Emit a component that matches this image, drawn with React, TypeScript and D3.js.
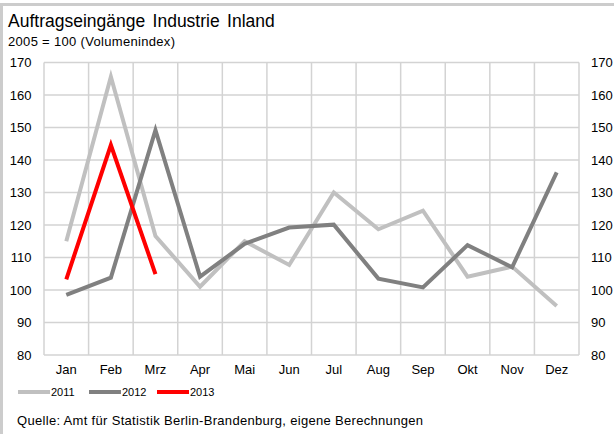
import React from "react";
import * as d3 from "d3";

const months = ["Jan", "Feb", "Mrz", "Apr", "Mai", "Jun", "Jul", "Aug", "Sep", "Okt", "Nov", "Dez"];
const values2011 = [115, 165.6, 116.6, 101, 115, 107.7, 130, 118.7, 124.4, 104.1, 107.2, 95.1];
const values2012 = [98.5, 103.8, 149.2, 104.1, 114.2, 119.2, 120.1, 103.5, 100.8, 113.8, 107, 136.2];
const values2013 = [103.3, 144.6, 104.9];
const yTicks = [80, 90, 100, 110, 120, 130, 140, 150, 160, 170];
const seriesNames = ["2011", "2012", "2013"];
const seriesColors = ["#c0c0c0", "#808080", "#ff0000"];

const W = 614;
const H = 434;
const plot = { left: 44, right: 579, top: 62.5, bottom: 355 };
const font = "'Liberation Sans', Arial, sans-serif";

export default function App() {
  const x = d3.scaleBand<string>().domain(months).range([plot.left, plot.right]);
  const y = d3.scaleLinear().domain([80, 170]).range([plot.bottom, plot.top]);
  const line = d3
    .line<number>()
    .x((_, i) => (x(months[i]) as number) + x.bandwidth() / 2)
    .y((d) => y(d));
  const series = [values2011, values2012, values2013];
  const grid = "#d3d3d3";
  const legendX = [18, 89, 157];

  return (
    <svg
      width={W}
      height={H}
      style={{ position: "absolute", left: 0, top: 0, background: "#fff" }}
      fontFamily={font}
    >
      <rect x={0} y={3} width={W} height={3} fill="#cccccc" />
      <rect x={0} y={3} width={3} height={H - 3} fill="#cccccc" />

      <text x={8} y={27} fontSize={17.5} fill="#000" wordSpacing={2.5}>
        Auftragseingänge Industrie Inland
      </text>
      <text x={8} y={45.5} fontSize={13} fill="#000" textLength={167} lengthAdjust="spacing">
        2005 = 100 (Volumenindex)
      </text>

      {yTicks.map((t) => (
        <line key={"h" + t} x1={plot.left} x2={plot.right} y1={y(t)} y2={y(t)} stroke={grid} strokeWidth={1.5} />
      ))}
      {d3.range(months.length + 1).map((i) => {
        const xx = plot.left + i * x.step();
        return <line key={"v" + i} x1={xx} x2={xx} y1={plot.top} y2={plot.bottom} stroke={grid} strokeWidth={1.5} />;
      })}

      {yTicks.map((t) => (
        <text key={"yl" + t} x={31.5} y={y(t) + 4.5} fontSize={13} textAnchor="end" fill="#000">
          {t}
        </text>
      ))}
      {yTicks.map((t) => (
        <text key={"yr" + t} x={591} y={y(t) + 4.5} fontSize={13} textAnchor="start" fill="#000">
          {t}
        </text>
      ))}
      {months.map((m) => (
        <text
          key={m}
          x={(x(m) as number) + x.bandwidth() / 2}
          y={374}
          fontSize={13}
          textAnchor="middle"
          fill="#000"
        >
          {m}
        </text>
      ))}

      {series.map((s, i) => (
        <path
          key={seriesNames[i]}
          d={line(s) || ""}
          fill="none"
          stroke={seriesColors[i]}
          strokeWidth={4}
          strokeLinejoin="miter"
        />
      ))}

      {seriesNames.map((n, i) => (
        <g key={"lg" + n}>
          <line x1={legendX[i]} x2={legendX[i] + 32} y1={392} y2={392} stroke={seriesColors[i]} strokeWidth={4} />
          <text x={legendX[i] + 33} y={396} fontSize={11} fill="#000">
            {n}
          </text>
        </g>
      ))}

      <text x={17} y={425} fontSize={13} fill="#000" textLength={406} lengthAdjust="spacing">
        Quelle: Amt für Statistik Berlin-Brandenburg, eigene Berechnungen
      </text>
    </svg>
  );
}
